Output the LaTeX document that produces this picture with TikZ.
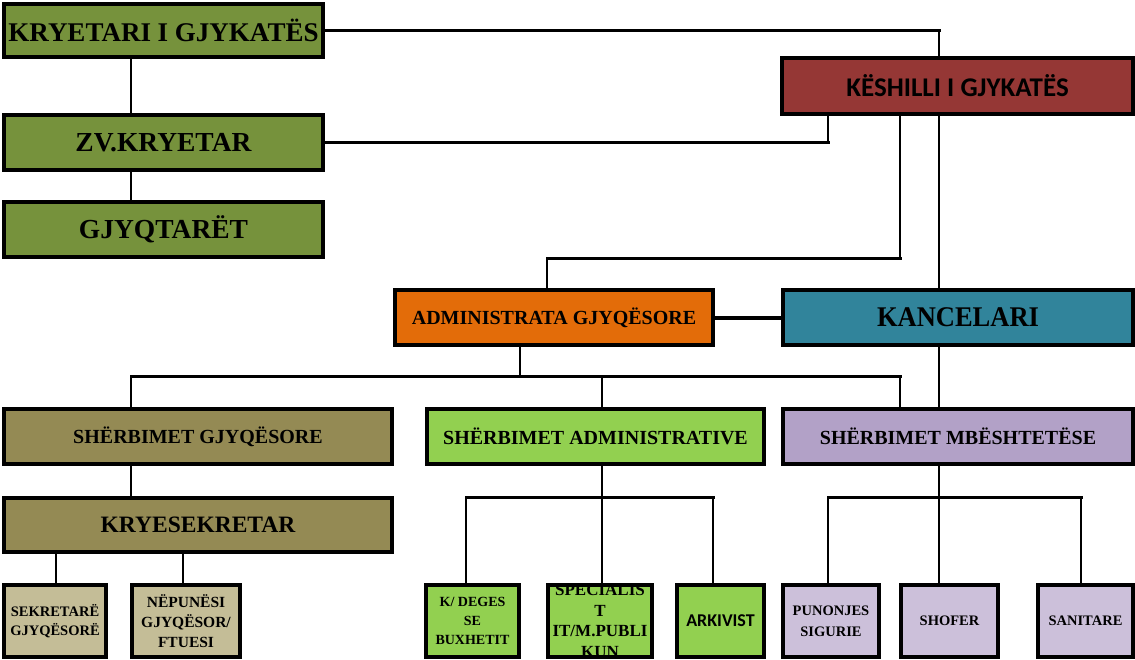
\documentclass[tikz,border=0pt]{standalone}
\usepackage{fontspec}
\usepackage{graphicx}
\usetikzlibrary{calc}
\setmainfont{Liberation Serif}
\newfontfamily\calfont{Carlito}
\definecolor{olivebox}{HTML}{76923C}
\definecolor{redbox}{HTML}{953735}
\definecolor{orangebox}{HTML}{E36C09}
\definecolor{tealbox}{HTML}{31849B}
\definecolor{khakibox}{HTML}{948A54}
\definecolor{greenbox}{HTML}{92D050}
\definecolor{lilacbox}{HTML}{B2A1C7}
\definecolor{lkhakibox}{HTML}{C4BD97}
\definecolor{llilacbox}{HTML}{CCC0DA}
\begin{document}
\begin{tikzpicture}[x=1pt,y=-1pt,
  box/.style={draw=black, line width=3.5pt, inner sep=0pt, outer sep=0pt, align=center, text=black},
  hl/.style={draw=black, line width=3pt, line cap=rect},
  vl/.style={draw=black, line width=2pt, line cap=rect}]
\useasboundingbox (0,0) rectangle (1135,659);
\fill[white] (0,0) rectangle (1135,659);

% top-left column
\node[box, fill=olivebox, minimum width=319pt, minimum height=53pt, font=\bfseries\fontsize{27}{32}\selectfont] (kry) at (163.5,30.5) {KRYETARI I GJYKATËS};
\node[box, fill=olivebox, minimum width=319pt, minimum height=55pt, font=\bfseries\fontsize{27.5}{32}\selectfont] (zv) at (163.5,142.5) {ZV.KRYETAR};
\node[box, fill=olivebox, minimum width=319pt, minimum height=55pt, font=\bfseries\fontsize{27.5}{32}\selectfont] (gjy) at (163.5,229.5) {GJYQTARËT};

% council
\node[box, fill=redbox, minimum width=351pt, minimum height=56pt, font=\calfont\bfseries\fontsize{27}{32}\selectfont] (kes) at (957.5,86) {KËSHILLI I GJYKATËS};

% second level
\node[box, fill=orangebox, minimum width=318pt, minimum height=55pt, font=\bfseries\fontsize{20}{24}\selectfont] (adm) at (554,317.5) {ADMINISTRATA GJYQËSORE};
\node[box, fill=tealbox, minimum width=350pt, minimum height=55pt, font=\bfseries\fontsize{28.5}{34}\selectfont] (kan) at (958,317.5) {\scalebox{0.93}[1]{KANCELARI}};

% services
\node[box, fill=khakibox, minimum width=388pt, minimum height=55pt, font=\bfseries\fontsize{20}{24}\selectfont] (sg) at (198,436.5) {SHËRBIMET GJYQËSORE};
\node[box, fill=greenbox, minimum width=337pt, minimum height=55pt, font=\bfseries\fontsize{20}{24}\selectfont] (sa) at (595.5,436.5) {SHËRBIMET ADMINISTRATIVE};
\node[box, fill=lilacbox, minimum width=350pt, minimum height=55pt, font=\bfseries\fontsize{20}{24}\selectfont] (sm) at (958,436.5) {SHËRBIMET MBËSHTETËSE};
\node[box, fill=khakibox, minimum width=388pt, minimum height=54pt, font=\bfseries\fontsize{23.5}{28}\selectfont] (ks) at (198,525) {KRYESEKRETAR};

% bottom row
\node[box, fill=lkhakibox, minimum width=102pt, minimum height=72pt, font=\bfseries\fontsize{14.5}{19}\selectfont] (sek) at (55,621) {SEKRETARË\\GJYQËSORË};
\node[box, fill=lkhakibox, minimum width=108pt, minimum height=72pt, font=\bfseries\fontsize{15.5}{20}\selectfont] (nep) at (186,621) {NËPUNËSI\\GJYQËSOR/\\FTUESI};
\node[box, fill=greenbox, minimum width=93pt, minimum height=72pt, font=\bfseries\fontsize{14}{19}\selectfont] (kdeg) at (472.5,621) {K/ DEGES\\SE\\BUXHETIT};
\node[box, fill=greenbox, minimum width=104pt, minimum height=72pt] (spec) at (600,621) {};
\begin{scope}
  \clip ($(spec.north west)+(1.75,1.75)$) rectangle ($(spec.south east)+(-1.75,-1.75)$);
  \node[align=center, inner sep=0pt, font=\bfseries\fontsize{17}{20.5}\selectfont] (spectext) at (spec.center) {SPECIALIS\\T\\IT/M.PUBLI\\KUN};
\end{scope}
\node[box, fill=greenbox, minimum width=87pt, minimum height=72pt, font=\calfont\bfseries\fontsize{18}{22}\selectfont] (ark) at (720.5,621) {ARKIVIST};
\node[box, fill=llilacbox, minimum width=96pt, minimum height=72pt, font=\bfseries\fontsize{14.5}{21}\selectfont] (pun) at (831,621) {PUNONJES\\SIGURIE};
\node[box, fill=llilacbox, minimum width=97pt, minimum height=72pt, font=\bfseries\fontsize{14.5}{21}\selectfont] (sho) at (949.5,621) {SHOFER};
\node[box, fill=llilacbox, minimum width=95pt, minimum height=72pt, font=\bfseries\fontsize{14.5}{21}\selectfont] (san) at (1085.5,621) {SANITARE};

% guide coordinates
\coordinate (v56) at (56,0);
\coordinate (v131) at (131,0);
\coordinate (v183) at (183,0);
\coordinate (v828) at (828,0);
\coordinate (v939) at (939,0);
\coordinate (jA) at (900,258);
\coordinate (jB) at (547,258);
\coordinate (m1) at (131,376);
\coordinate (m2) at (520,376);
\coordinate (m3) at (602,376);
\coordinate (m4) at (900,376);
\coordinate (p1) at (466,497);
\coordinate (p2) at (602,497);
\coordinate (p3) at (713,497);
\coordinate (q1) at (828,497);
\coordinate (q2) at (939,497);
\coordinate (q3) at (1081,497);

% top connectors
\draw[hl] (kry.east) -- (kry.east -| v939);
\draw[vl] (kry.east -| v939) -- (kes.north -| v939);
\draw[vl] (kry.south -| v131) -- (zv.north -| v131);
\draw[vl] (zv.south -| v131) -- (gjy.north -| v131);
\draw[hl] (zv.east) -- (zv.east -| v828);
\draw[vl] (zv.east -| v828) -- (kes.south -| v828);

% council down
\draw[vl] (kes.south -| jA) -- (jA);
\draw[hl] (jA) -- (jB);
\draw[vl] (jB) -- (adm.north -| jB);
\draw[vl] (kes.south -| v939) -- (kan.north -| v939);
\draw[draw=black, line width=4pt] (adm.east) -- (kan.west);

% services bus
\draw[vl] (adm.south -| m2) -- (m2);
\draw[hl] (m1) -- (m4);
\draw[vl] (m1) -- (sg.north -| m1);
\draw[vl] (m3) -- (sa.north -| m3);
\draw[vl] (m4) -- (sm.north -| m4);
\draw[vl] (kan.south -| v939) -- (sm.north -| v939);

% judicial services
\draw[vl] (sg.south -| v131) -- (ks.north -| v131);
\draw[vl] (ks.south -| v56) -- (sek.north -| v56);
\draw[vl] (ks.south -| v183) -- (nep.north -| v183);

% administrative services
\draw[vl] (sa.south -| p2) -- (p2);
\draw[hl] (p1) -- (p3);
\draw[vl] (p1) -- (kdeg.north -| p1);
\draw[vl] (p2) -- (spec.north -| p2);
\draw[vl] (p3) -- (ark.north -| p3);

% support services
\draw[vl] (sm.south -| q2) -- (q2);
\draw[hl] (q1) -- (q3);
\draw[vl] (q1) -- (pun.north -| q1);
\draw[vl] (q2) -- (sho.north -| q2);
\draw[vl] (q3) -- (san.north -| q3);
\end{tikzpicture}
\end{document}
